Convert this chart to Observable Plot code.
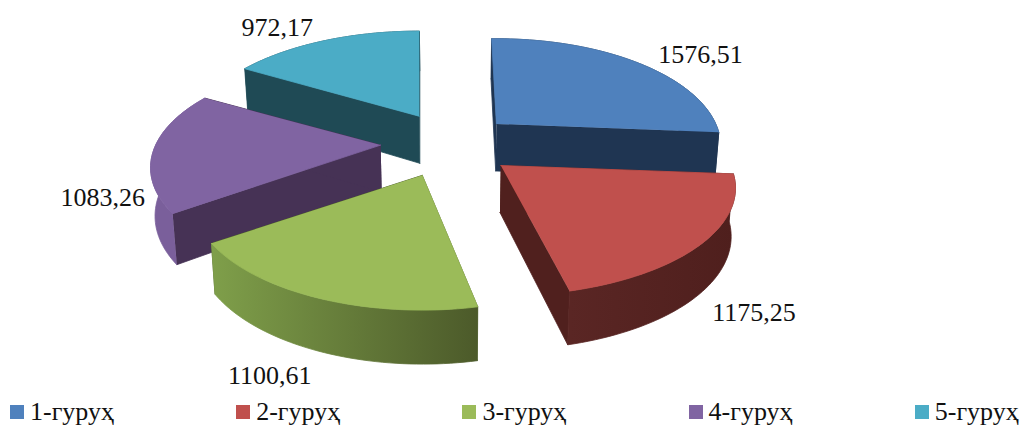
<!DOCTYPE html>
<html>
<head>
<meta charset="utf-8">
<script src="https://cdn.jsdelivr.net/npm/d3@7"></script>
<script src="https://cdn.jsdelivr.net/npm/@observablehq/plot@0.6"></script>
<style>
html,body{margin:0;padding:0;background:#fff;overflow:hidden}
#legend{display:flex;height:30px;padding-left:10px;font-family:"Liberation Serif",serif;font-size:26px;color:#111}
#legend div{flex:none;width:226.2px;display:flex;align-items:flex-start;white-space:nowrap}
#legend i{display:inline-block;flex:none;width:14px;height:14px;margin-top:7px;margin-right:6px}
#legend span{line-height:28px}
</style>
</head>
<body>
<div id="chart"></div>
<div id="legend"></div>
<script>
const groups = ["1-гуруҳ", "2-гуруҳ", "3-гуруҳ", "4-гуруҳ", "5-гуруҳ"];
const values = [1576.51, 1175.25, 1100.61, 1083.26, 972.17];
const topColors = ["#4f81bd", "#c0504d", "#9bbb59", "#8064a2", "#4bacc6"];
const faceColors = ["#1f3552", "#50201e", "#4e5f2c", "#463255", "#1f4a55"];
const rimStart = ["#1f3552", "#4f1f1d", "#4c5a2a", "#7a5f9b", "#1f4a55"];
const rimEnd = ["#1f3552", "#5a2624", "#7f9f4a", "#7f63a0", "#1f4a55"];
const labelNudgeX = [65, 51, -47, -51, -48];
const labelNudgeY = [-7, 70, 78, 48, -13];
const drawOrder = [4, 0, 3, 1, 2];

// fine tuning of each slice's placement in the 3-D view
const spin = [0, 0, 2.5, 1, 1.5];
const widen = [0.975, 1.02, 1, 1, 1];
const tallen = [1, 1, 1.035, 1, 1];
const shiftX = [0, 2, -4, -2, 5];
const shiftY = [0, -3, -3, -4, -2];

const W = 1022, H = 398;
const cx = 448, cy = 146.4, a = 225, b = 103, p = 0.209;
const exX = 66, exY = 33.4, startDeg = -1.5, shrink = 0.985;
const total = d3.sum(values);
const rad = d => d * Math.PI / 180;

function place(s, X, Y, down) {
  const w = 1 / (1 + p * Y);
  const x = s.ax + a * s.k * X * w, y = s.ay - b * s.v * Y * w;
  return down ? {x: cx + (x - cx) * shrink, y: y + 47 - 7 * Y} : {x, y};
}
let acc = startDeg;
const slices = values.map((v, i) => {
  const t0 = acc, t1 = acc + v / total * 360;
  acc = t1;
  const m = rad((t0 + t1) / 2);
  return {i, t0: t0 + spin[i], t1: t1 + spin[i], k: widen[i], v: tallen[i],
          ax: cx + exX * Math.sin(m) + shiftX[i], ay: cy - exY * Math.cos(m) + shiftY[i]};
});
const rimPt = (s, deg, down) => place(s, Math.sin(rad(deg)), Math.cos(rad(deg)), down);
const apexPt = (s, down) => place(s, 0, 0, down);

const pts = [];
let fid = 0;
function addFace(points, color) {
  const id = fid++;
  for (const q of points) pts.push({x: q.x, y: q.y, id, color});
}
for (const i of drawOrder) {
  const s = slices[i];
  const n = 48, arc = d3.range(n + 1).map(k => s.t0 + (s.t1 - s.t0) * k / n);
  addFace([apexPt(s), rimPt(s, s.t0), rimPt(s, s.t0, true), apexPt(s, true)], faceColors[i]);
  addFace([apexPt(s), rimPt(s, s.t1), rimPt(s, s.t1, true), apexPt(s, true)], faceColors[i]);
  addFace([...arc.map(d => rimPt(s, d)), ...arc.slice().reverse().map(d => rimPt(s, d, true))], `url(#rim${i})`);
  addFace([apexPt(s), ...arc.map(d => rimPt(s, d))], topColors[i]);
}

// rim shading: one horizontal gradient per slice
const rimGradients = () => {
  const defs = d3.create("svg:defs");
  for (const s of slices) {
    const g = defs.append("linearGradient").attr("id", `rim${s.i}`)
      .attr("gradientUnits", "userSpaceOnUse")
      .attr("x1", rimPt(s, s.t0).x).attr("y1", 0)
      .attr("x2", rimPt(s, s.t1).x).attr("y2", 0);
    g.append("stop").attr("offset", 0).attr("stop-color", rimStart[s.i]);
    g.append("stop").attr("offset", 1).attr("stop-color", rimEnd[s.i]);
  }
  return defs.node();
};

const fmt = v => v.toFixed(2).replace(".", ",");
const labelMarks = slices.map(s => {
  const q = rimPt(s, (s.t0 + s.t1) / 2);
  return Plot.text([values[s.i]], {
    x: () => q.x, y: () => q.y, text: d => fmt(d),
    dx: labelNudgeX[s.i], dy: labelNudgeY[s.i],
    fontSize: 26, fontFamily: "Liberation Serif", fill: "#111"
  });
});

const chart = Plot.plot({
  width: W, height: H,
  margin: 0,
  x: {domain: [0, W], range: [0, W], axis: null},
  y: {domain: [0, H], range: [0, H], axis: null},
  marks: [
    rimGradients,
    Plot.line(pts, {x: "x", y: "y", z: "id", fill: "color", stroke: "color", strokeWidth: 0.8, strokeLinejoin: "round"}),
    ...labelMarks
  ]
});
document.getElementById("chart").appendChild(chart);
chart.style.display = "block";
const legend = document.getElementById("legend");
groups.forEach((g, i) => {
  const d = document.createElement("div");
  d.innerHTML = `<i style="background:${topColors[i]}"></i><span>${g}</span>`;
  legend.appendChild(d);
});
</script>
</body>
</html>
